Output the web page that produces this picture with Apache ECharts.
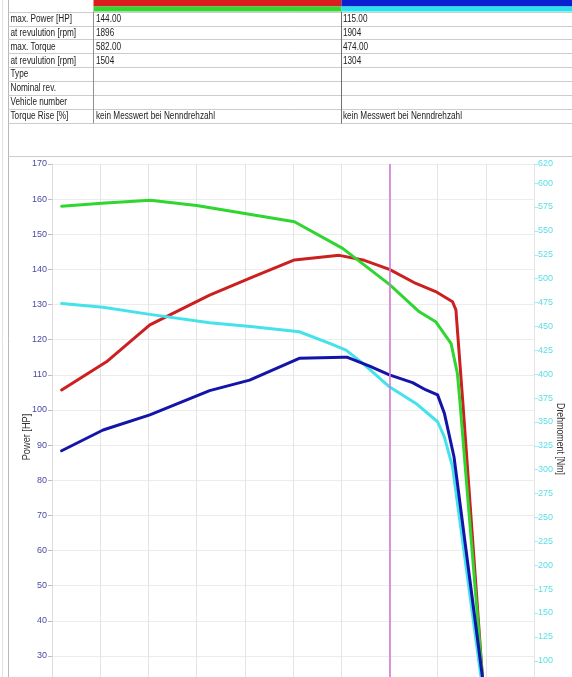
<!DOCTYPE html>
<html><head><meta charset="utf-8">
<script src="https://cdn.jsdelivr.net/npm/echarts@6/dist/echarts.min.js"></script>
<style>html,body{margin:0;padding:0;background:#fff}#c{width:572px;height:677px}</style>
</head><body><div id="c"></div>
<script>
// ---- table content ----
const rowLabels = ["max. Power [HP]", "at revulution [rpm]", "max. Torque", "at revulution [rpm]", "Type", "Nominal rev.", "Vehicle number", "Torque Rise [%]"];
const engine1Info = ["144.00", "1896", "582.00", "1504", "", "", "", "kein Messwert bei Nenndrehzahl"];
const engine2Info = ["115.00", "1904", "474.00", "1304", "", "", "", "kein Messwert bei Nenndrehzahl"];

// ---- axes ----
const rpmMin = 1300, rpmMax = 2300, rpmStep = 100;
const hpMin = 0, hpMax = 170, hpStep = 10;
const nmMin = 0, nmMax = 620, nmStep = 25;
const nominalRpm = 2000;

// ---- series (engine 1: red power / green torque; engine 2: blue power / cyan torque) ----
const rpmPower1 = [1320, 1413, 1503, 1627, 1717, 1803, 1896, 1945, 2000, 2055, 2096, 2131, 2138, 2152, 2193, 2200];
const power1    = [105.7, 113.7, 124.2, 132.7, 137.9, 142.7, 144.0, 142.7, 140.0, 136.0, 133.7, 130.8, 128.5, 102.8, 24, 12];

const rpmTorque1 = [1320, 1403, 1504, 1600, 1803, 1903, 2000, 2062, 2096, 2128, 2141, 2146, 2193, 2200];
const torque1    = [575.8, 578.8, 582, 576.5, 559.6, 531.7, 494, 465.3, 454.9, 432, 400.8, 373, 83, 42];

const rpmPower2 = [1320, 1406, 1503, 1627, 1710, 1813, 1904, 1913, 1959, 2000, 2048, 2076, 2100, 2114, 2134, 2193, 2200];
const power2    = [88.4, 94.3, 98.6, 105.5, 108.5, 114.7, 115.0, 115.0, 112.5, 110.0, 107.8, 105.7, 104.3, 99.1, 86.7, 24, 16];

const rpmTorque2 = [1320, 1406, 1503, 1627, 1717, 1813, 1876, 1910, 1945, 2000, 2055, 2100, 2114, 2131, 2190, 2200];
const torque2    = [474, 470, 462.6, 453.8, 449.6, 444.4, 432.3, 425.2, 411.3, 386.8, 369.4, 350.2, 334.4, 303, 83, 44];

const zip = (xs, ys) => xs.map((x, i) => [x, ys[i]]);
const FONT = "'Liberation Sans', Arial, sans-serif";

// ---- table graphics ----
const rowTop = 11.7, rowH = 13.875, col1 = 93.5, col2 = 341.5, leftX = 8.5, W = 572;
const NARROW = 0.82;
const g = [];
g.push({type:'line', shape:{x1:2.5,y1:0,x2:2.5,y2:677}, style:{stroke:'#e2e2e2', lineWidth:1}, silent:true});
g.push({type:'line', shape:{x1:leftX,y1:0,x2:leftX,y2:677}, style:{stroke:'#b8b8b8', lineWidth:1}, silent:true});
g.push({type:'rect', shape:{x:col1, y:0, width:col2-col1, height:6.5}, style:{fill:'#d81e1e'}, silent:true});
g.push({type:'rect', shape:{x:col1, y:6.5, width:col2-col1, height:5}, style:{fill:'#30d830'}, silent:true});
g.push({type:'rect', shape:{x:col2, y:0, width:W-col2, height:6.5}, style:{fill:'#0c1ed0'}, silent:true});
g.push({type:'rect', shape:{x:col2, y:6.5, width:W-col2, height:5}, style:{fill:'#26e4ee'}, silent:true});
for (let i = 0; i <= rowLabels.length; i++) {
  const y = Math.round(rowTop + i*rowH) + 0.5;
  g.push({type:'line', shape:{x1:leftX,y1:y,x2:W,y2:y}, style:{stroke:'#cccccc', lineWidth:1}, silent:true});
}
const tableBottom = Math.round(rowTop + rowLabels.length*rowH) + 0.5;
g.push({type:'line', shape:{x1:col1,y1:rowTop,x2:col1,y2:tableBottom}, style:{stroke:'#909090', lineWidth:1}, silent:true});
g.push({type:'line', shape:{x1:col2,y1:rowTop,x2:col2,y2:tableBottom}, style:{stroke:'#707070', lineWidth:1}, silent:true});
g.push({type:'line', shape:{x1:leftX,y1:156.5,x2:W,y2:156.5}, style:{stroke:'#cccccc', lineWidth:1}, silent:true});
const cellText = (x, y, t) => ({type:'text', x, y, scaleX:NARROW, style:{text:t, font:'10px ' + FONT, fill:'#222', verticalAlign:'middle', align:'left'}, silent:true});
rowLabels.forEach((t, i) => {
  const cy = rowTop + (i+0.5)*rowH + 0.5;
  g.push(cellText(10.5, cy, t));
  if (engine1Info[i]) g.push(cellText(col1+2.5, cy, engine1Info[i]));
  if (engine2Info[i]) g.push(cellText(col2+1.5, cy, engine2Info[i]));
});
g.push({type:'text', x:27, y:437, rotation:Math.PI/2, scaleX:0.92, style:{text:'Power [HP]', font:'10px ' + FONT, fill:'#333', align:'center', verticalAlign:'middle'}, silent:true});
g.push({type:'text', x:560, y:439, rotation:-Math.PI/2, scaleX:0.88, style:{text:'Drehmoment [Nm]', font:'10px ' + FONT, fill:'#333', align:'center', verticalAlign:'middle'}, silent:true});

const chart = echarts.init(document.getElementById('c'), null, {renderer:'canvas'});
const lineS = (name, color, data, xi, yi, extra) => Object.assign({
  name, type:'line', data, xAxisIndex:xi, yAxisIndex:yi, symbol:'none', smooth:false,
  lineStyle:{color, width:3, cap:'round', join:'round'}, itemStyle:{color}, animation:false, silent:true
}, extra || {});

chart.setOption({
  animation:false,
  backgroundColor:'#fff',
  graphic:{elements:g},
  grid:[
    {left:52, top:164, width:482, height:597.4, outerBoundsMode:'none', containLabel:false},
    {left:52, top:164, width:482, height:592.3, outerBoundsMode:'none', containLabel:false}
  ],
  xAxis:[
    {type:'value', gridIndex:0, min:rpmMin, max:rpmMax, interval:rpmStep,
     axisLine:{show:false}, axisTick:{show:false}, axisLabel:{show:false},
     splitLine:{show:true, lineStyle:{color:'#e4e4e4', width:1}}},
    {type:'value', gridIndex:1, min:rpmMin, max:rpmMax, interval:rpmStep, show:false}
  ],
  yAxis:[
    {type:'value', gridIndex:0, position:'left', min:hpMin, max:hpMax, interval:hpStep,
     axisLine:{show:true, lineStyle:{color:'#dcdcdc'}},
     axisTick:{show:true, length:4, lineStyle:{color:'#b8b8d0'}},
     axisLabel:{color:'#4a4aa2', fontSize:9, fontFamily:FONT, margin:5, interval:0},
     splitLine:{show:true, lineStyle:{color:'#ececec', width:1}}},
    {type:'value', gridIndex:1, position:'right', min:nmMin, max:nmMax, interval:nmStep,
     axisLine:{show:false},
     axisTick:{show:true, length:4, lineStyle:{color:'#a8ecf0'}},
     axisLabel:{color:'#5adfe6', fontSize:9, fontFamily:FONT, margin:4, interval:0, showMaxLabel:true},
     splitLine:{show:false}}
  ],
  series:[
    lineS('Power 1', '#cc2020', zip(rpmPower1, power1), 0, 0, {
      markLine:{silent:true, symbol:'none', label:{show:false},
        lineStyle:{color:'#d27ad6', width:1.6, type:'solid'}, data:[{xAxis:nominalRpm}]}
    }),
    lineS('Torque 1', '#2fd62f', zip(rpmTorque1, torque1), 1, 1),
    lineS('Torque 2', '#44e2ea', zip(rpmTorque2, torque2), 1, 1),
    lineS('Power 2', '#1414a8', zip(rpmPower2, power2), 0, 0)
  ]
});
</script>
</body></html>
